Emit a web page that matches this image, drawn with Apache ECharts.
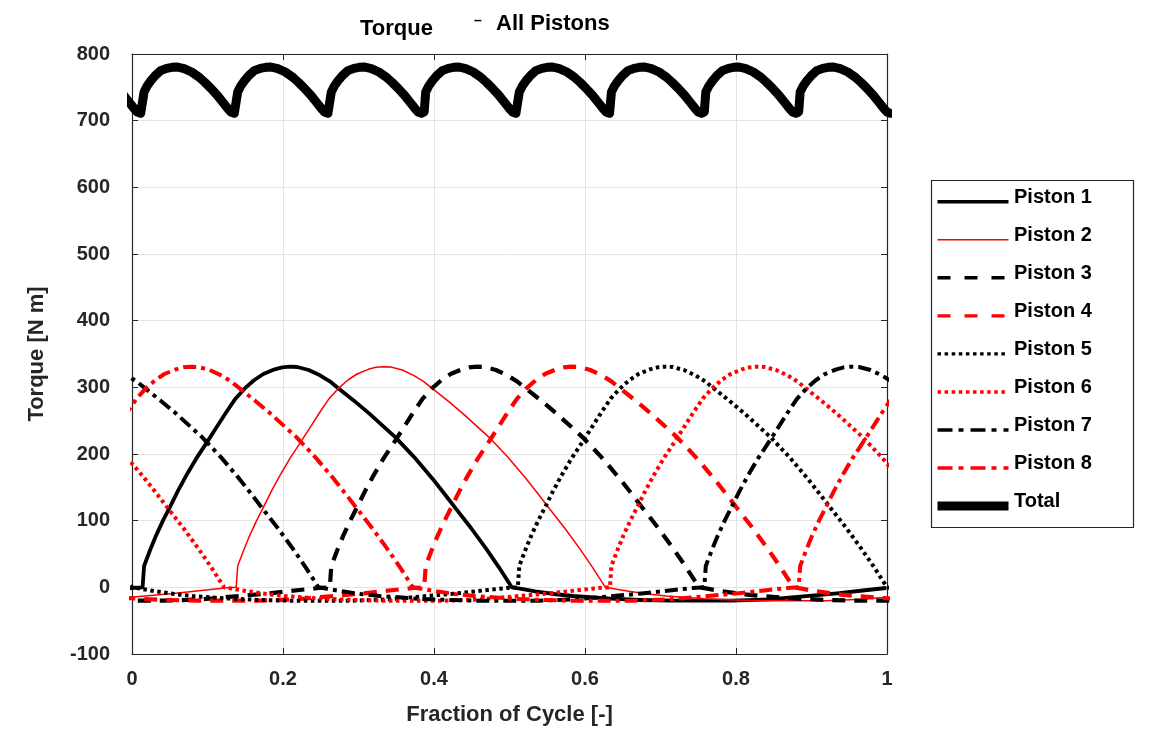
<!DOCTYPE html>
<html><head><meta charset="utf-8">
<script src="https://cdn.jsdelivr.net/npm/echarts@6/dist/echarts.min.js"></script>
<style>html,body{margin:0;padding:0;background:#fff}#c{width:1153px;height:737px}</style>
</head><body><div id="c"></div>
<script>
// ---- data ----
const pistonNames = ['Piston 1','Piston 2','Piston 3','Piston 4','Piston 5','Piston 6','Piston 7','Piston 8'];
const legendNames = pistonNames.concat(['Total']);
// fraction of cycle where each piston's power stroke begins
const pistonStart = [0.014, 0.138, 0.262, 0.387, 0.511, 0.633, 0.758, 0.883];
// single-piston torque profile vs. phase after stroke start (same shape for every piston)
const strokePhase  = [0, 0.002, 0.010, 0.018, 0.027, 0.036, 0.047, 0.058, 0.071, 0.085, 0.098, 0.111, 0.123, 0.135, 0.148, 0.160, 0.175, 0.185, 0.195, 0.205, 0.220, 0.235, 0.248, 0.260, 0.280, 0.300, 0.335, 0.360, 0.384, 0.400, 0.415, 0.435, 0.455, 0.472, 0.489, 0.500, 0.520, 0.545, 0.570, 0.620, 0.660, 0.700, 0.780, 0.830, 0.860, 0.920, 0.960, 0.985];
const strokeTorque = [0, 32, 56, 78, 100, 120, 145, 168, 193, 217, 240, 263, 283, 298, 311, 320, 327, 330, 331, 330.5, 326, 318, 309, 298, 280, 261, 225, 195, 163, 140, 118, 89, 58, 30, 0, -2, -6, -10, -13, -17, -19, -20, -20, -18, -15, -9, -4, -1];
// total torque: one ripple period, repeated at each stroke start
const totalStart  = [-0.110, 0.014, 0.138, 0.262, 0.387, 0.511, 0.633, 0.758, 0.883];
const totalPhase  = [0, 0.002, 0.006, 0.011, 0.017, 0.024, 0.032, 0.039, 0.046, 0.055, 0.065, 0.074, 0.082, 0.090, 0.099, 0.106, 0.113, 0.117, 0.1215];
const totalTorque = [713, 743, 752, 760, 768, 775, 778.5, 780, 780.5, 778, 773, 766, 758, 749, 738, 728, 718, 713, 711];
const xTickLabels = ['0','0.2','0.4','0.6','0.8','1'];
const yTickLabels = ['-100','0','100','200','300','400','500','600','700','800'];

// ---- styles ----
const BLACK = '#000000', RED = '#ff0000', AX = '#262626';
const styles = [
  {color: BLACK, width: 3.8, type: 'solid',        leg: 'solid'},
  {color: RED,   width: 1.5, type: 'solid',        leg: 'solid'},
  {color: BLACK, width: 4.2, type: [13, 9],        leg: [13, 14]},
  {color: RED,   width: 4.2, type: [13, 9],        leg: [13, 14]},
  {color: BLACK, width: 4,   type: [3.5, 3.5],     leg: [3.5, 3.6]},
  {color: RED,   width: 4,   type: [3.5, 3.5],     leg: [3.5, 3.6]},
  {color: BLACK, width: 4,   type: [13, 5, 4, 5],  leg: [15, 6, 5, 7]},
  {color: RED,   width: 4,   type: [13, 5, 4, 5],  leg: [15, 6, 5, 7]},
  {color: BLACK, width: 9,   type: 'solid',        leg: 'solid'}
];

function pistonSeriesData(s) {
  const pts = [];
  [-1, 0].forEach(shift => {
    for (let i = 0; i < strokePhase.length; i++) pts.push([s + shift + strokePhase[i], strokeTorque[i]]);
  });
  return pts;
}
function totalSeriesData() {
  const pts = [];
  totalStart.forEach(s => {
    for (let i = 0; i < totalPhase.length; i++) pts.push([s + totalPhase[i], totalTorque[i]]);
  });
  return pts;
}

const series = pistonNames.map((n, k) => ({
  name: n, type: 'line', data: pistonSeriesData(pistonStart[k]),
  symbol: 'none', showSymbol: false, smooth: false, clip: true, animation: false,
  lineStyle: {color: styles[k].color, width: styles[k].width, type: styles[k].type, cap: 'butt', join: 'round'},
  itemStyle: {color: styles[k].color},
  xAxisIndex: 0, yAxisIndex: 0
}));
series.push({
  name: 'Total', type: 'line', data: totalSeriesData(),
  symbol: 'none', showSymbol: false, smooth: false, clip: true, animation: false,
  lineStyle: {color: BLACK, width: 9, type: 'solid', join: 'round', cap: 'round'},
  itemStyle: {color: BLACK},
  xAxisIndex: 0, yAxisIndex: 0
});

const FONT = '"Liberation Sans", Arial, Helvetica, sans-serif';
const GL = {left: 132, right: 266, top: 54, bottom: 83};

// legend drawn as graphic elements (line samples + real text)
const legendGraphics = [
  {type: 'rect', shape: {x: 931.5, y: 180.5, width: 202, height: 347},
   style: {fill: '#fff', stroke: AX, lineWidth: 1.2}, silent: true, z: 100}
];
legendNames.forEach((n, i) => {
  const yl = 201.7 + 38.05 * i;
  legendGraphics.push({
    type: 'line', z: 101, silent: true,
    shape: {x1: 937.5, y1: yl, x2: 1008.5, y2: yl},
    style: {stroke: styles[i].color, lineWidth: styles[i].width === 9 ? 9 : (styles[i].width === 1.5 ? 1.5 : 3.4),
            lineDash: styles[i].leg === 'solid' ? null : styles[i].leg, lineCap: 'butt'}
  });
  legendGraphics.push({
    type: 'text', z: 101, silent: true, x: 1014, y: 197.5 + 38.05 * i,
    style: {text: n, fill: '#000', font: 'bold 20px ' + FONT, verticalAlign: 'middle', align: 'left'}
  });
});

const chart = echarts.init(document.getElementById('c'), null, {renderer: 'canvas'});
chart.setOption({
  backgroundColor: '#ffffff',
  animation: false,
  grid: GL,
  xAxis: [{
    type: 'value', min: 0, max: 1, interval: 0.2, position: 'bottom',
    name: 'Fraction of Cycle [-]', nameLocation: 'middle', nameGap: 50,
    nameTextStyle: {color: AX, fontFamily: FONT, fontWeight: 'bold', fontSize: 22},
    axisLine: {show: true, onZero: false, lineStyle: {color: AX, width: 1.2}},
    axisTick: {show: true, inside: true, length: 6, lineStyle: {color: AX}},
    axisLabel: {color: AX, fontFamily: FONT, fontWeight: 'bold', fontSize: 20, margin: 15,
      formatter: v => xTickLabels[Math.round(v / 0.2)] ?? ''},
    splitLine: {show: true, lineStyle: {color: '#e3e3e3', width: 1}}
  }, {
    type: 'value', min: 0, max: 1, interval: 0.2, position: 'top',
    axisLine: {show: true, onZero: false, lineStyle: {color: AX, width: 1.2}},
    axisTick: {show: true, inside: true, length: 6, lineStyle: {color: AX}},
    axisLabel: {show: false}, splitLine: {show: false}
  }],
  yAxis: [{
    type: 'value', min: -100, max: 800, interval: 100, position: 'left',
    name: 'Torque [N m]', nameLocation: 'middle', nameGap: 84, nameRotate: 90,
    nameTextStyle: {color: AX, fontFamily: FONT, fontWeight: 'bold', fontSize: 22},
    axisLine: {show: true, onZero: false, lineStyle: {color: AX, width: 1.2}},
    axisTick: {show: true, inside: true, length: 6, lineStyle: {color: AX}},
    axisLabel: {color: AX, fontFamily: FONT, fontWeight: 'bold', fontSize: 20, margin: 22,
      formatter: v => yTickLabels[Math.round((v + 100) / 100)] ?? ''},
    splitLine: {show: true, lineStyle: {color: '#e3e3e3', width: 1}}
  }, {
    type: 'value', min: -100, max: 800, interval: 100, position: 'right',
    axisLine: {show: true, onZero: false, lineStyle: {color: AX, width: 1.2}},
    axisTick: {show: true, inside: true, length: 6, lineStyle: {color: AX}},
    axisLabel: {show: false}, splitLine: {show: false}
  }],
  graphic: legendGraphics.concat([
    {type: 'text', x: 360, y: 18, style: {text: 'Torque', fill: '#000', font: 'bold 22px ' + FONT}},
    {type: 'text', x: 474, y: 14, style: {text: '–', fill: '#000', font: 'bold 14px ' + FONT}},
    {type: 'text', x: 496, y: 13, style: {text: 'All Pistons', fill: '#000', font: 'bold 22px ' + FONT}}
  ]),
  series: series
});
</script>
</body></html>
